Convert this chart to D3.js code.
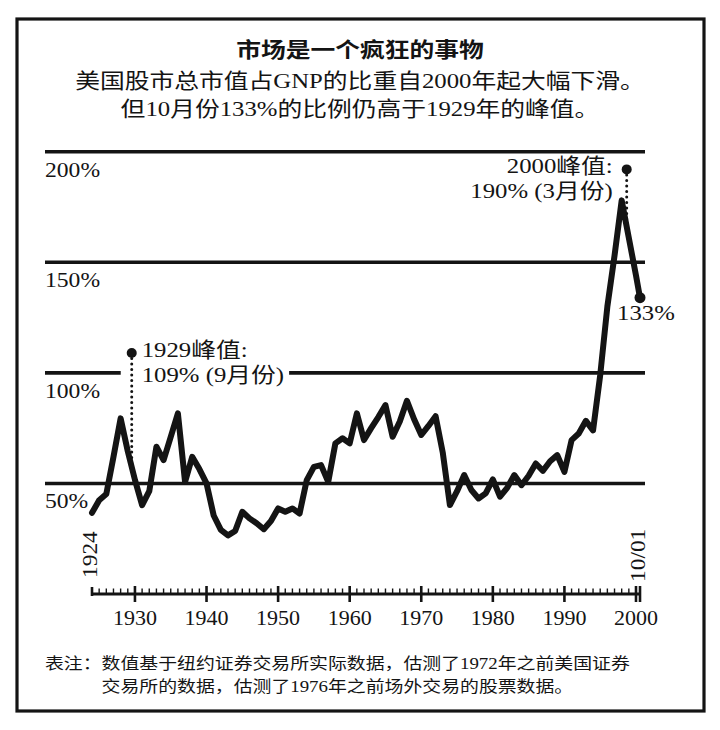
<!DOCTYPE html>
<html><head><meta charset="utf-8">
<script src="https://cdn.jsdelivr.net/npm/d3@7"></script>
<style>html,body{margin:0;padding:0;background:#fff;} svg{display:block;}</style>
</head><body>
<svg id="chart" width="720" height="730"></svg>
<script>
// ---------- data ----------
const years = [1924,1925,1926,1927,1928,1929,1930,1931,1932,1933,1934,1935,1936,1937,1938,1939,
  1940,1941,1942,1943,1944,1945,1946,1947,1948,1949,1950,1951,1952,1953,1954,1955,1956,1957,1958,1959,
  1960,1961,1962,1963,1964,1965,1966,1967,1968,1969,1970,1971,1972,1973,1974,1975,1976,1977,1978,1979,
  1980,1981,1982,1983,1984,1985,1986,1987,1988,1989,1990,1991,1992,1993,1994,1995,1996,1997,1998,1999,
  2000,2001.75];
const ratio = [36.7,42.4,45.2,62,79.4,64.5,51.6,40.2,46.5,66.6,60.5,71,81.7,50.7,62,56.5,
  50,35.5,29,26.5,28.5,37.2,34.2,32,29.3,33,38.7,37.2,38.7,36.4,51.5,57.5,58.3,50.7,68.1,70.4,
  68.1,81.7,69.6,75,80,85.4,71.1,78,87.4,79,71.9,76,80.4,64,40.2,46.5,53.8,47,43.2,45.5,
  51.8,44,48,53.8,49.2,53.5,59,55.7,60,62.8,55.2,69.6,72.6,78.3,74,99,130,153,178,161,
  144,134];
const yTicks = [50,100,150,200];
const yTickLabels = ["50%","100%","150%","200%"];
const xMajorTicks = [1930,1940,1950,1960,1970,1980,1990,2000];
const xMajorLabels = ["1930","1940","1950","1960","1970","1980","1990","2000"];
const xEndTicks = [1924,2001.75];
const xEndLabels = ["1924","10/01"];
const peakX = [1929.55, 1998.7];
const peakValues = [109, 192];
const peakLabels = [["1929峰值:","109% (9月份)"],["2000峰值:","190% (3月份)"]];
const endLabel = "133%";
const title = "市场是一个疯狂的事物";
const subtitle = ["美国股市总市值占GNP的比重自2000年起大幅下滑。","但10月份133%的比例仍高于1929年的峰值。"];
const footnote = ["表注：数值基于纽约证券交易所实际数据，估测了1972年之前美国证券","交易所的数据，估测了1976年之前场外交易的股票数据。"];
const footnoteLead = "表注：";

// ---------- setup ----------
const INK = "#141414";
const SERIF = "'Liberation Serif','Noto Sans CJK SC',serif";
const SANS = "'Noto Sans CJK SC',sans-serif";
const svg = d3.select("#chart");
svg.append("rect").attr("width",720).attr("height",730).attr("fill","#fff");
svg.append("rect").attr("x",17).attr("y",19).attr("width",687).attr("height",692)
  .attr("fill","none").attr("stroke",INK).attr("stroke-width",3.2);

const x = d3.scaleLinear().domain([1924,2000,2001.75]).range([92,636,640]);
const y = d3.scaleLinear().domain([0,200]).range([594,151.7]);

function txt(parent, s, px, py, o) {
  o = o || {};
  let tr = `translate(${px},${py})`;
  if (o.rot) tr += ` rotate(${o.rot})`;
  tr += ` scale(${o.sx||1},1)`;
  return parent.append("text").attr("transform", tr)
    .attr("text-anchor", o.anchor || "start")
    .attr("font-size", o.size || 20)
    .attr("font-family", o.family || SERIF)
    .attr("font-weight", o.weight || "normal")
    .attr("fill", INK).text(s);
}

// ---------- titles ----------
txt(svg, title, 360, 57, {size:21, family:SANS, weight:"bold", anchor:"middle", sx:1.18});
txt(svg, subtitle[0], 360, 88, {size:21, anchor:"middle", sx:1.18});
txt(svg, subtitle[1], 360, 116, {size:21, anchor:"middle", sx:1.18});

// ---------- gridlines ----------
const peakPts = peakX.map((px,i)=>({x:x(px), y:y(peakValues[i])}));
const grid = svg.append("g");
const ann = svg.append("g");
const annTexts = [];
peakLabels.forEach((lines,i)=>{
  const p = peakPts[i];
  const right = i === 0;
  lines.forEach((l,j)=>{
    const t = txt(ann, l, right ? p.x + 10 : p.x - 14, p.y + 4 + j*25,
      {size:21, anchor: right ? "start" : "end", sx:1.18});
    annTexts.push({t, i});
  });
});
const ann1Right = d3.max(annTexts.filter(a=>a.i===0), a=>a.t.node().getBoundingClientRect().right);

yTicks.forEach((v,i)=>{
  const gy = y(v);
  if (v === 100) {
    grid.append("line").attr("x1",45).attr("x2",peakPts[0].x-11).attr("y1",gy).attr("y2",gy);
    grid.append("line").attr("x1",ann1Right+5).attr("x2",645).attr("y1",gy).attr("y2",gy);
  } else {
    grid.append("line").attr("x1",45).attr("x2",645).attr("y1",gy).attr("y2",gy);
  }
  txt(svg, yTickLabels[i], 45, gy + 25, {size:20, sx:1.18});
});
grid.selectAll("line").attr("stroke",INK).attr("stroke-width",3.6);

// ---------- x axis ----------
const ax = svg.append("g").attr("stroke",INK);
const y0 = y(0);
ax.append("line").attr("x1",x(1924)).attr("x2",x(2001.75)).attr("y1",y0).attr("y2",y0).attr("stroke-width",3);
const minor = years.filter(yr => Number.isInteger(yr) && yr > 1924 && !xMajorTicks.includes(yr));
ax.selectAll(".mn").data(minor).join("line")
  .attr("x1",d=>x(d)).attr("x2",d=>x(d)).attr("y1",y0).attr("y2",y0-5.5).attr("stroke-width",1.4);
ax.selectAll(".mj").data(xMajorTicks).join("line")
  .attr("x1",d=>x(d)).attr("x2",d=>x(d)).attr("y1",y0-8).attr("y2",y0+8).attr("stroke-width",2.6);
ax.append("line").attr("x1",x(xEndTicks[0])).attr("x2",x(xEndTicks[0])).attr("y1",y0-7).attr("y2",y0+2).attr("stroke-width",2.6);
ax.append("line").attr("x1",x(xEndTicks[1])).attr("x2",x(xEndTicks[1])).attr("y1",y0-8).attr("y2",y0+8).attr("stroke-width",2.6);
xMajorTicks.forEach((v,i)=>{
  txt(svg, xMajorLabels[i], x(v), y0 + 31, {size:20, anchor:"middle", sx:1.1});
});
xEndTicks.forEach((v,i)=>{
  txt(svg, xEndLabels[i], x(v) + (i===0 ? 4.5 : 5), y0 - (i===0 ? 16 : 12), {size:20, rot:-90, sx:1.17});
});

// ---------- line ----------
const pts = years.map((yr,i)=>[x(yr), y(ratio[i])]);
svg.append("path").attr("d", d3.line()(pts)).attr("fill","none")
  .attr("stroke",INK).attr("stroke-width",6).attr("stroke-linejoin","round").attr("stroke-linecap","round");
const last = pts[pts.length-1];
svg.append("circle").attr("cx",last[0]).attr("cy",last[1]).attr("r",5.5).attr("fill",INK);
txt(svg, endLabel, last[0] - 23, last[1] + 22, {size:21, sx:1.18});

// ---------- peak annotations ----------
function curveYAt(px) {
  for (let i=0;i<pts.length-1;i++) {
    if (pts[i][0] <= px && pts[i+1][0] >= px) {
      const t = (px - pts[i][0])/(pts[i+1][0]-pts[i][0]);
      return pts[i][1] + t*(pts[i+1][1]-pts[i][1]);
    }
  }
  return pts[0][1];
}
peakPts.forEach(p=>{
  svg.append("line").attr("x1",p.x).attr("x2",p.x).attr("y1",p.y).attr("y2",curveYAt(p.x)-3)
    .attr("stroke",INK).attr("stroke-width",3).attr("stroke-linecap","round").attr("stroke-dasharray","0,5.5");
  svg.append("circle").attr("cx",p.x).attr("cy",p.y).attr("r",5).attr("fill",INK);
});

// ---------- footnote ----------
txt(svg, footnote[0], 45, 669, {size:16, sx:1.18});
const lead = txt(svg, footnoteLead, -1000, -1000, {size:16, sx:1.18});
const leadW = lead.node().getBoundingClientRect().width;
lead.remove();
txt(svg, footnote[1], 45 + leadW, 692, {size:16, sx:1.18});
</script>
</body></html>
